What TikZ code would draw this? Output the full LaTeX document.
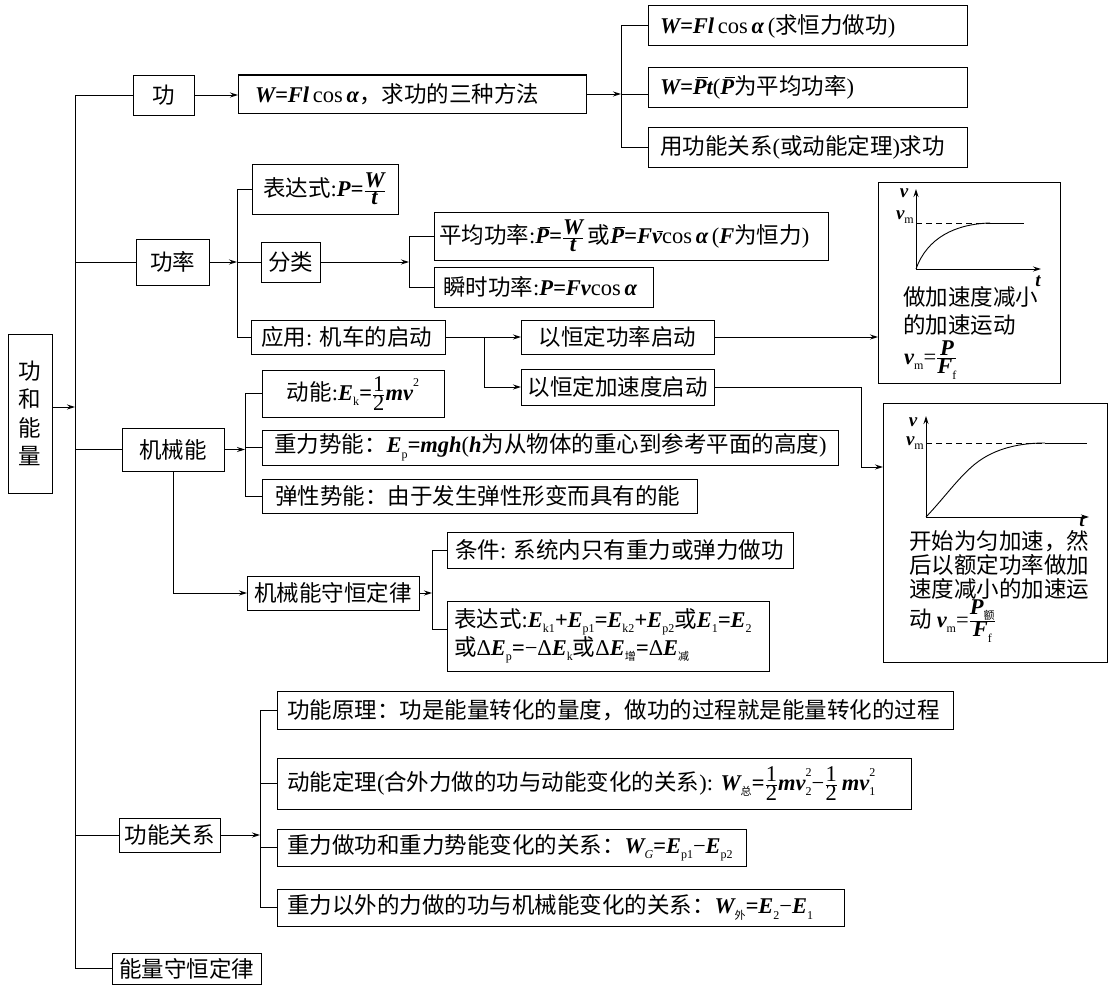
\RequirePackage{fix-cm}
\documentclass[tikz,border=0pt]{standalone}
\usepackage{fontspec}
\setmainfont{Noto Sans CJK SC}
\newfontfamily\tms{Liberation Serif}
\usetikzlibrary{arrows.meta}
\newcommand\tr[1]{{\tms #1}}
\newcommand\m[1]{{\tms\bfseries\itshape #1}}
\newcommand\lo[1]{\raisebox{-0.45ex}{\fontsize{12}{12}\selectfont\tms #1}}
\newcommand\loc[1]{\raisebox{-0.45ex}{\fontsize{11}{11}\selectfont #1}}
\newcommand\hi[1]{\raisebox{1.1ex}{\fontsize{12}{12}\selectfont\tms #1}}
\newcommand\lohi[2]{\rlap{\lo{#1}}\hi{#2}}
\newcommand\fr[2]{$\frac{\mbox{#1}}{\mbox{#2}}$}
\newcommand\ov[1]{{\setbox0=\hbox{#1}\rlap{\kern0.2em\rule[\dimexpr\ht0+1.6pt\relax]{\dimexpr\wd0-0.15em\relax}{0.9pt}}\box0}}
\tikzset{
  ln/.style={line width=1pt},
  ar/.style={line width=1pt,-{Stealth[length=8pt,width=5pt]}},
  box/.style={draw,line width=1pt,outer sep=0pt,inner ysep=1pt,font=\fontsize{22.5}{28}\selectfont},
  txt/.style={inner sep=0pt,font=\fontsize{22.5}{28}\selectfont},
  lab/.style={inner sep=0pt,font=\fontsize{19}{22}\selectfont}
}
\newcommand\bx[8]{%
  \pgfmathsetmacro\bxw{#5-#3-2*#2}%
  \pgfmathsetmacro\bxh{#6-#4}%
  \node[box,inner xsep=#2pt,text width=\bxw pt,minimum height=\bxh pt,align=#7,anchor=north west] (#1) at (#3,#4) {#8};}
\begin{document}
\begin{tikzpicture}[x=1pt,y=-1pt]
\useasboundingbox (0,0) rectangle (1116,990);
\fill[white] (0,0) rectangle (1116,990);

% root
\node[box,minimum width=44pt,minimum height=159pt,align=center,inner xsep=2pt,
  font=\fontsize{22.5}{28.5}\selectfont,anchor=north west] (root) at (8,334) {功\\和\\能\\量};

% work
\bx{gong}{3}{133}{75}{194}{115}{center}{功}
\bx{fa}{17}{238}{75}{586}{113}{left}{\m{W=Fl}\,\tr{cos}\,\m{α}，求功的三种方法}
\bx{ta}{12}{648}{6}{967}{46}{left}{\m{W=Fl}\,\tr{cos}\,\m{α}\,\tr{(}求恒力做功\tr{)}}
\bx{tb}{12}{648}{68}{967}{107}{left}{\m{W=}\ov{\m{P}}\m{t}\tr{(}\ov{\m{P}}为平均功率\tr{)}}
\bx{tc}{12}{648}{127}{967}{167}{left}{用功能关系\tr{(}或动能定理\tr{)}求功}

% power
\bx{gl}{3}{136}{239}{209}{285}{center}{功率}
\bx{bds}{11}{252}{164}{398}{214}{left}{表达式\tr{:}\m{P=}\fr{\m{W}}{\m{t}}}
\bx{fl}{3}{261}{242}{320}{282}{center}{分类}
\bx{pj}{5}{434}{212}{828}{260}{left}{平均功率\tr{:}\ov{\m{P}}\m{=}\fr{\m{W}}{\m{t}}\,或\ov{\m{P}}\m{=F}\ov{\m{v}}\tr{cos}\,\m{α}\,\tr{(}\m{F}为恒力\tr{)}}
\bx{ss}{9}{434}{267}{653}{307}{left}{瞬时功率\tr{:}\m{P=Fv}\tr{cos}\,\m{α}}
\bx{yy}{10}{251}{320}{445}{354}{left}{应用\tr{:}~机车的启动}
\bx{hg}{3}{521}{320}{714}{354}{center}{以恒定功率启动}
\bx{hj}{3}{521}{369}{714}{405}{center}{以恒定加速度启动}

% graph boxes
\node[draw,line width=1pt,outer sep=0pt,minimum width=182pt,minimum height=201pt,anchor=north west] (ga) at (878,182) {};
\node[draw,line width=1pt,outer sep=0pt,minimum width=224pt,minimum height=259pt,anchor=north west] (gb) at (883,403) {};

% mechanical energy
\bx{jx}{3}{122}{428}{224}{471}{center}{机械能}
\bx{dn}{3}{262}{370}{444}{417}{center}{动能\tr{:}\m{E}\lo{k}\m{=}\fr{\tr{1}}{\tr{2}}\m{mv}\hi{2}}
\bx{zl}{12}{262}{430}{838}{465}{left}{重力势能：\m{E}\lo{p}\m{=mgh}\tr{(}\m{h}为从物体的重心到参考平面的高度\tr{)}}
\bx{tx}{13}{262}{479}{697}{513}{left}{弹性势能：由于发生弹性形变而具有的能}
\bx{sh}{3}{247}{576}{419}{610}{center}{机械能守恒定律}
\bx{tj}{8}{447}{532}{793}{568}{left}{条件\tr{:}~系统内只有重力或弹力做功}
\bx{bd}{7}{447}{601}{769}{671}{left}{表达式\tr{:}\m{E}\lo{k1}\m{+E}\lo{p1}\m{=E}\lo{k2}\m{+E}\lo{p2}或\m{E}\lo{1}\m{=E}\lo{2}\\或\tr{Δ}\m{E}\lo{p}\m{=}\tr{−Δ}\m{E}\lo{k}或\tr{Δ}\m{E}\loc{增}\m{=}\tr{Δ}\m{E}\loc{减}}

% work-energy relations
\bx{gn}{3}{119}{818}{220}{852}{center}{功能关系}
\bx{yl}{10}{277}{691}{953}{729}{left}{功能原理：功是能量转化的量度，做功的过程就是能量转化的过程}
\bx{dl}{10}{277}{758}{911}{809}{left}{动能定理\tr{(}合外力做的功与动能变化的关系\tr{)}\tr{:}~\m{W}\loc{总}\m{=}\fr{\tr{1}}{\tr{2}}\m{mv}\lohi{2}{2}\tr{−}\fr{\tr{1}}{\tr{2}}\,\m{mv}\lohi{1}{2}}
\bx{zg}{10}{277}{829}{746}{866}{left}{重力做功和重力势能变化的关系：\m{W}\lo{\itshape G}\m{=E}\lo{p1}\tr{−}\m{E}\lo{p2}}
\bx{zw}{10}{277}{889}{844}{926}{left}{重力以外的力做的功与机械能变化的关系：\m{W}\loc{外}\m{=E}\lo{2}\tr{−}\m{E}\lo{1}}
\bx{nl}{3}{112}{953}{261}{984}{center}{能量守恒定律}

% main bus
\coordinate (bx) at (75,0);
\coordinate (ry) at (0,407);
\draw[ln] (bx |- gong.west) -- (bx |- nl.west);
\draw[ar] (root.east |- ry) -- (bx |- ry);
\draw[ln] (bx |- gong.west) -- (gong.west);
\draw[ln] (bx |- gl.west) -- (gl.west);
\draw[ln] (bx |- jx.west) -- (jx.west);
\draw[ln] (bx |- gn.west) -- (gn.west);
\draw[ln] (bx |- nl.west) -- (nl.west);

% work connectors
\draw[ar] (gong.east) -- (gong.east -| fa.west);
\coordinate (c1) at (621,0);
\draw[ar] (fa.east) -- (fa.east -| c1);
\draw[ln] (ta.west) -- (c1 |- ta.west) -- (c1 |- tc.west) -- (tc.west);
\draw[ln] (c1 |- fa.east) -- (fa.east -| tb.west);

% power connectors
\coordinate (c2) at (237,0);
\draw[ln] (bds.west) -- (c2 |- bds.west) -- (c2 |- yy.west) -- (yy.west);
\draw[ar] (gl.east) -- (gl.east -| c2);
\draw[ln] (gl.east -| c2) -- (fl.west);
\coordinate (c3) at (409,0);
\draw[ar] (fl.east) -- (fl.east -| c3);
\draw[ln] (pj.west) -- (c3 |- pj.west) -- (c3 |- ss.west) -- (ss.west);
\coordinate (c4) at (484,0);
\draw[ar] (yy.east) -- (yy.east -| hg.west);
\draw[ar] (c4 |- yy.east) -- (c4 |- hj.west) -- (hj.west);
\draw[ar] (hg.east) -- (hg.east -| ga.west);
\coordinate (c5) at (861,467);
\draw[ar] (hj.east) -| (c5) -- (c5 -| gb.west);

% mechanical energy connectors
\coordinate (c6) at (245,0);
\draw[ar] (jx.east) -- (jx.east -| c6);
\draw[ln] (dn.west) -- (c6 |- dn.west) -- (c6 |- tx.west) -- (tx.west);
\draw[ln] (c6 |- zl.west) -- (zl.west);
\draw[ar] (jx.south) |- (sh.west);
\coordinate (c7) at (432,629);
\draw[ar] (sh.east) -- (sh.east -| c7);
\draw[ln] (tj.west) -- (c7 |- tj.west) -- (c7) -- (c7 -| bd.west);

% work-energy connectors
\coordinate (c8) at (260,0);
\draw[ar] (gn.east) -- (gn.east -| c8);
\draw[ln] (yl.west) -- (c8 |- yl.west) -- (c8 |- zw.west) -- (zw.west);
\draw[ln] (c8 |- dl.west) -- (dl.west);
\draw[ln] (c8 |- zg.west) -- (zg.west);

% graph 1
\coordinate (o1) at (916,269);
\draw[ar] (o1) -- (916,189);
\draw[ar] (o1) -- (1041,269);
\draw[line width=0.8pt,dash pattern=on 6pt off 4pt] (916,223) -- (990,223);
\draw[line width=0.8pt] (990,223) -- (1024,223);
\draw[line width=0.9pt] (o1) .. controls (927,238) and (955,224) .. (990,223);
\node[lab,anchor=center] (g1v) at (904,193) {\m{v}};
\node[lab,anchor=east] (g1vm) at (914,217) {\m{v}\lo{m}};
\node[lab,anchor=center] (g1t) at (1038,281) {\m{t}};
\node[txt,anchor=west] (g1a) at (903,297) {做加速度减小};
\node[txt,anchor=west] (g1b) at (903,325) {的加速运动};
\node[txt,anchor=west] (g1c) at (904,360) {\m{v}\lo{m}\tr{=}\fr{\m{P}}{\m{F}\lo{f}}};

% graph 2
\coordinate (o2) at (926,517);
\draw[ar] (o2) -- (926,416);
\draw[ar] (o2) -- (1089,517);
\draw[line width=0.8pt,dash pattern=on 6pt off 4pt] (926,443) -- (1045,443);
\draw[line width=0.8pt] (1045,443) -- (1087,443);
\draw[line width=0.9pt] (o2) .. controls (945,497) and (958,478) .. (975,464) .. controls (995,448) and (1020,443) .. (1045,443);
\node[lab,anchor=center] (g2v) at (913,422) {\m{v}};
\node[lab,anchor=east] (g2vm) at (924,443) {\m{v}\lo{m}};
\node[lab,anchor=center] (g2t) at (1082,521) {\m{t}};
\node[txt,anchor=west] (g2a) at (909,541) {开始为匀加速，然};
\node[txt,anchor=west] (g2b) at (909,565) {后以额定功率做加};
\node[txt,anchor=west] (g2c) at (909,589) {速度减小的加速运};
\node[txt,anchor=west] (g2d) at (909,621) {动~\m{v}\lo{m}\tr{=}\fr{\m{P}\loc{额}}{\m{F}\lo{f}}};
\end{tikzpicture}
\end{document}
